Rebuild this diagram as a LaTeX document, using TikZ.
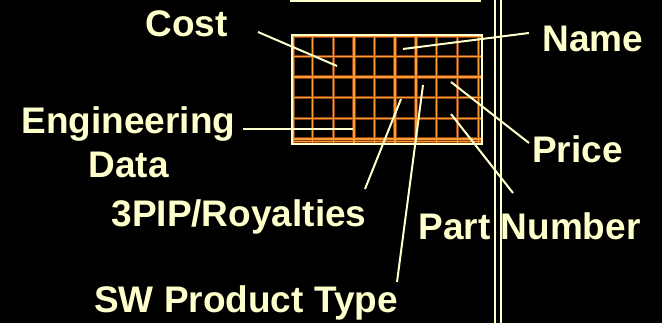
\documentclass[tikz,border=0pt]{standalone}
\usepackage{fontspec}
\setmainfont{Liberation Sans}
\definecolor{pale}{HTML}{FFFFCC}
\definecolor{gridcore}{HTML}{FF9A30}
\definecolor{gridhalo}{HTML}{8A4212}
\tikzset{
  lbl/.style={text=pale, inner sep=0pt, font=\fontsize{37}{44}\selectfont\bfseries},
  leader/.style={draw=pale, line width=2pt},
  gridhalo/.style={draw=gridhalo, line width=3.6pt},
  gridcore/.style={draw=gridcore, line width=1.7pt},
  frame/.style={draw=pale, line width=2pt},
}
\begin{document}
\begin{tikzpicture}[x=1pt,y=-1pt]
\fill[black] (0,0) rectangle (662,323);
\useasboundingbox (0,0) rectangle (662,323);
% top box edge and double vertical lines
\coordinate (tl) at (290,1.3);
\coordinate (tr) at (481,1.3);
\draw[frame] (tl) -- (tr);
\coordinate (va1) at (495,0);
\coordinate (vb1) at (495,323);
\coordinate (va2) at (501,0);
\coordinate (vb2) at (501,323);
\draw[frame] (va1) -- (vb1);
\draw[frame] (va2) -- (vb2);
% grid
\foreach \x in {293,312.5,333.5,354,374.5,395,416,436.5,457.5,478.5}{
  \draw[gridhalo] (\x,35) -- (\x,143);
}
\foreach \y in {36.5,56.5,77,97.5,118.5,139,141.5}{
  \draw[gridhalo] (291,\y) -- (481,\y);
}
\foreach \x in {293,312.5,333.5,354,374.5,395,416,436.5,457.5,478.5}{
  \draw[gridcore] (\x,35) -- (\x,143);
}
\foreach \y in {36.5,56.5,77,97.5,118.5,139,141.5}{
  \draw[gridcore] (291,\y) -- (481,\y);
}
\node[draw=pale, line width=2pt, minimum width=190pt, minimum height=109pt, inner sep=0pt, anchor=north west] (table) at (291,34.5) {};
% labels
\node[lbl, anchor=base] (cost) at (186.7,36.5) {Cost};
\node[lbl, align=center] (eng) at (128.5,142) {Engineering\\Data};
\node[lbl, anchor=base] (name) at (593,51.5) {Name};
\node[lbl, anchor=base] (price) at (577.5,163) {Price};
\node[lbl, anchor=base] (partno) at (529.5,240) {Part Number};
\node[lbl, anchor=base] (pip) at (239,226.5) {3PIP/Royalties};
\node[lbl, anchor=base] (swpt) at (246,313) {SW Product Type};
% leader ends
\coordinate (costA) at (258,32);   \coordinate (costB) at (337,66);
\coordinate (nameA) at (529,33);   \coordinate (nameB) at (403,49);
\coordinate (priceA) at (529,143); \coordinate (priceB) at (451,82);
\coordinate (partA) at (513,193);  \coordinate (partB) at (451,114);
\coordinate (engA) at (243,129.3); \coordinate (engB) at (353,129.3);
\coordinate (pipA) at (365,189);   \coordinate (pipB) at (401,99);
\coordinate (swA) at (397,282);    \coordinate (swB) at (423,85);
\draw[leader] (costA) -- (costB);
\draw[leader] (nameA) -- (nameB);
\draw[leader] (priceA) -- (priceB);
\draw[leader] (partA) -- (partB);
\draw[leader] (engA) -- (engB);
\draw[leader] (pipA) -- (pipB);
\draw[leader] (swA) -- (swB);
\end{tikzpicture}
\end{document}
